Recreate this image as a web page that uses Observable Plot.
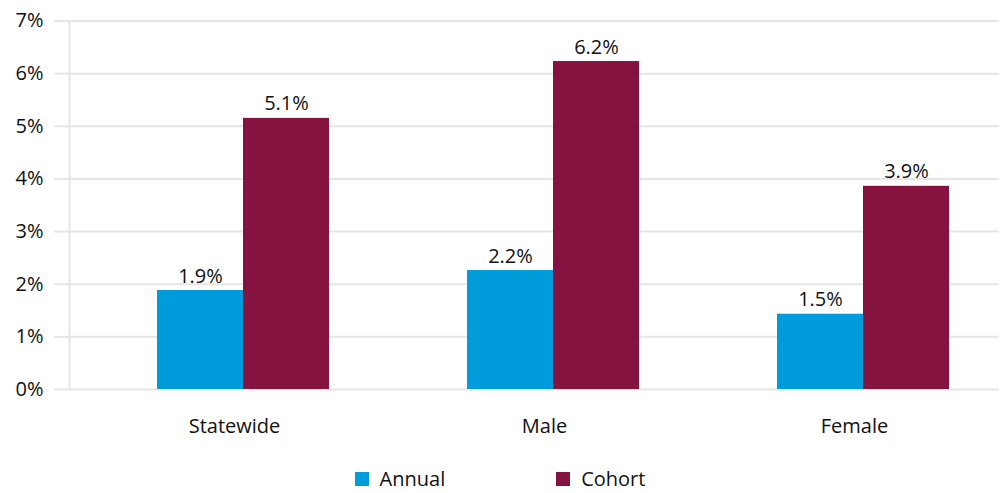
<!DOCTYPE html>
<html>
<head>
<meta charset="utf-8">
<script src="https://cdn.jsdelivr.net/npm/d3@7"></script>
<script src="https://cdn.jsdelivr.net/npm/@observablehq/plot@0.6"></script>
<style>
  html, body { margin: 0; padding: 0; background: #fff; }
  #wrap { position: relative; width: 1000px; height: 493px; overflow: hidden; font-family: "Open Sans", sans-serif; }
  #legend { position: absolute; left: 0; top: 468px; width: 1000px; display: flex; justify-content: center; gap: 111px; font-size: 20px; line-height: 22px; color: #111; }
  .item { white-space: nowrap; }
  .sw { display: inline-block; width: 14px; height: 14px; margin-right: 11px; vertical-align: baseline; }
</style>
</head>
<body>
<div id="wrap"><div id="chart"></div><div id="legend"></div></div>
<script>
const categories = ["Statewide", "Male", "Female"];
const seriesNames = ["Annual", "Cohort"];
const annualValues = [1.88, 2.26, 1.43];
const cohortValues = [5.15, 6.23, 3.86];
const annualLabels = ["1.9%", "2.2%", "1.5%"];
const cohortLabels = ["5.1%", "6.2%", "3.9%"];
const yTicks = [0, 1, 2, 3, 4, 5, 6, 7];
const colors = ["#009bdb", "#84143f"];

const data = [];
categories.forEach((c, i) => {
  data.push({category: c, series: "Annual", value: annualValues[i], label: annualLabels[i]});
  data.push({category: c, series: "Cohort", value: cohortValues[i], label: cohortLabels[i]});
});

const font = "Open Sans, sans-serif";
const chart = Plot.plot({
  width: 1000,
  height: 445,
  marginLeft: 69,
  marginRight: 1,
  marginTop: 20.5,
  marginBottom: 56,
  style: {fontFamily: font, fontSize: "20px", color: "#111", background: "white"},
  fx: {domain: categories, paddingInner: 0, paddingOuter: 0, label: null},
  x: {domain: seriesNames, paddingInner: 0, paddingOuter: 0.792, align: 0.636, axis: null},
  y: {domain: [0, 7], ticks: yTicks, label: null},
  color: {domain: seriesNames, range: colors},
  marks: [
    Plot.gridY(yTicks, {stroke: "#e6e6e6", strokeOpacity: 1, strokeWidth: 2}),
    Plot.frame({anchor: "left", facetAnchor: "left", stroke: "#e6e6e6", strokeWidth: 2}),
    Plot.axisY(yTicks, {tickSize: 15, tickPadding: 11, stroke: "#e6e6e6", strokeWidth: 2, fill: "#111", fontSize: 20, tickFormat: d => d + "%", label: null}),
    Plot.axisFx({anchor: "bottom", tickSize: 0, tickPadding: 29, dx: 10, fontSize: 20, fill: "#111", label: null}),
    Plot.barY(data, {fx: "category", x: "series", y: "value", fill: "series"}),
    Plot.text(data, {fx: "category", x: "series", y: "value", text: "label", lineAnchor: "bottom", dy: -8, fontSize: 20, fill: "#111"})
  ]
});
document.getElementById("chart").appendChild(chart);

const legend = document.getElementById("legend");
seriesNames.forEach((s, i) => {
  const item = document.createElement("span");
  item.className = "item";
  const sw = document.createElement("span");
  sw.className = "sw";
  sw.style.background = colors[i];
  item.appendChild(sw);
  item.appendChild(document.createTextNode(s));
  legend.appendChild(item);
});
</script>
</body>
</html>
